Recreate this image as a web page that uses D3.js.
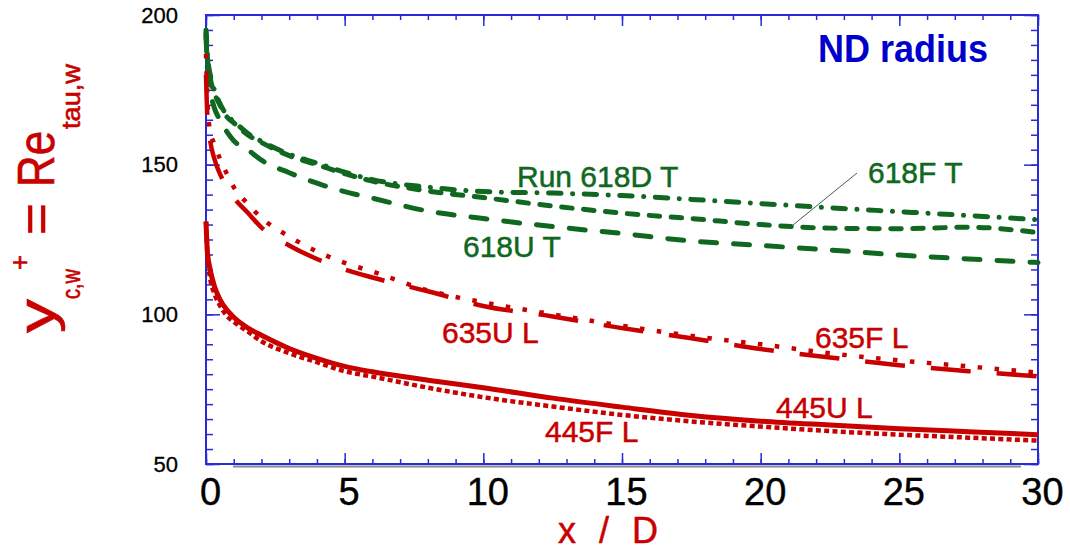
<!DOCTYPE html>
<html>
<head>
<meta charset="utf-8">
<script src="https://cdn.jsdelivr.net/npm/d3@7"></script>
<style>
  body { margin: 0; background: #fff; }
  text { font-family: "Liberation Sans", Arial, sans-serif; }
</style>
</head>
<body>
<script>
// x / D stations shared by every run
var xD = [0, 0.05, 0.15, 0.3, 0.5, 0.75, 1, 1.5, 2, 3, 4, 5, 6, 8, 10, 12.5, 15, 17.5, 20, 22.5, 25, 27.5, 30];

// y+ centreline values
var run618D = [195, 187, 180, 175, 170.5, 166.5, 164.5, 160.5, 157.8, 153.5, 150.5, 147.5, 145, 142.5, 141, 140.5, 139.7, 138.4, 137, 135.6, 134.3, 133, 131.6];
var run618F = [194, 186, 179, 174, 170, 166, 164, 160, 157.4, 153, 150, 147, 144.5, 141.2, 139, 136.2, 133.8, 132, 130, 128.8, 128.6, 129.1, 127.3];
var run618U = [193, 183, 175, 169, 165, 161, 158, 155, 151.5, 147.3, 143.8, 141, 138.8, 134.5, 132, 129.3, 127, 124.5, 123, 121.5, 119.8, 118.5, 117.3];
var run635F = [187, 172, 161, 157, 152, 147, 142.5, 137, 132.2, 126, 121, 117.2, 114.3, 108, 104, 100, 96.2, 92.8, 90, 87, 84.6, 82.6, 80.5];
var run635U = [180, 166, 158, 152, 147, 142.5, 139, 134, 129, 123, 118.5, 115, 112.3, 107.7, 102.8, 99.3, 95.4, 92, 88.4, 85.6, 83, 81, 79.3];
var run445U = [131, 121, 115, 109.5, 105, 101.5, 99, 95.5, 93, 88.6, 85.3, 82.6, 80.8, 78, 75.5, 72, 69, 66.2, 64.3, 63, 61.8, 60.8, 59.8];
var run445F = [131, 120, 112, 107, 103, 99.5, 97.5, 94.3, 91, 87, 84, 81, 79.2, 75.5, 72.3, 69.2, 66.4, 64.2, 62.5, 61, 59.8, 58.8, 57.8];

// axis ticks
var xMajor = [0, 5, 10, 15, 20, 25, 30];
var xMinor = d3.range(0, 31, 1);
var yMajor = [50, 100, 150, 200];
var yMinor = d3.range(50, 201, 5);

var green = "#106820", red = "#c80000", blue = "#2a2ad8";

var margin = { top: 15, right: 32, bottom: 88, left: 206 },
    width = 1070 - margin.left - margin.right,
    height = 552 - margin.top - margin.bottom;

var svg = d3.select("body").append("svg")
    .attr("width", 1070)
    .attr("height", 552);

var g = svg.append("g")
    .attr("transform", "translate(" + margin.left + "," + margin.top + ")");

var xScale = d3.scaleLinear().domain([0, 30]).range([0, width]);
var yScale = d3.scaleLinear().domain([50, 200]).range([height, 0]);

// frame + ticks (ticks point inward)
function tidy(sel) {
    sel.select(".domain").remove();
    sel.selectAll(".tick line").attr("stroke", blue).attr("stroke-width", 1.5);
}

g.append("g").attr("transform", "translate(0," + height + ")")
    .call(d3.axisBottom(xScale).tickValues(xMinor).tickSize(-5).tickFormat(""))
    .call(tidy);
var xAx = g.append("g").attr("transform", "translate(0," + height + ")")
    .call(d3.axisBottom(xScale).tickValues(xMajor).tickSize(-11).tickPadding(14).tickFormat(d3.format("d")))
    .call(tidy);
xAx.selectAll("text").attr("font-size", 38).attr("fill", "#000").attr("dx", 4)
    .attr("stroke", "#000").attr("stroke-width", 0.4)
    .style("font-family", "'Liberation Sans', Arial, sans-serif");

g.append("g")
    .call(d3.axisTop(xScale).tickValues(xMinor).tickSize(-5).tickFormat(""))
    .call(tidy);
g.append("g")
    .call(d3.axisTop(xScale).tickValues(xMajor).tickSize(-11).tickFormat(""))
    .call(tidy);

g.append("g")
    .call(d3.axisLeft(yScale).tickValues(yMinor).tickSize(-7).tickFormat(""))
    .call(tidy);
var yAx = g.append("g")
    .call(d3.axisLeft(yScale).tickValues(yMajor).tickSize(-14).tickPadding(28).tickFormat(d3.format("d")))
    .call(tidy);
yAx.selectAll("text").attr("font-size", 22).attr("fill", "#000")
    .attr("stroke", "#000").attr("stroke-width", 0.3)
    .style("font-family", "'Liberation Sans', Arial, sans-serif");

g.append("g").attr("transform", "translate(" + width + ",0)")
    .call(d3.axisRight(yScale).tickValues(yMinor).tickSize(-7).tickFormat(""))
    .call(tidy);
g.append("g").attr("transform", "translate(" + width + ",0)")
    .call(d3.axisRight(yScale).tickValues(yMajor).tickSize(-14).tickFormat(""))
    .call(tidy);

g.append("rect")
    .attr("width", width).attr("height", height)
    .attr("fill", "none").attr("stroke", blue).attr("stroke-width", 2);

// grey shadow under the bottom axis
g.append("line")
    .attr("x1", 27).attr("x2", width - 17)
    .attr("y1", height + 2.5).attr("y2", height + 2.5)
    .attr("stroke", "#8a8a8a").attr("stroke-width", 2);

// the runs
var runs = [
    { vals: run618U, color: green, w: 5, dash: "16,17", cap: "round" },
    { vals: run618F, color: green, w: 5, dash: "10.5,11.5", cap: "round" },
    { vals: run618D, color: green, w: 5, dash: "12.5,11.5,0.1,11.5", cap: "round" },
    { vals: run635U, color: red, w: 4.5, dash: "40,26", cap: "butt" },
    { vals: run635F, color: red, w: 4.5, dash: "4.5,12.5", cap: "butt" },
    { vals: run445F, color: red, w: 4.5, dash: "5,3.3", cap: "butt" },
    { vals: run445U, color: red, w: 5, dash: null, cap: "butt" }
];

var valueline = d3.line()
    .x(function(d, i) { return xScale(xD[i]); })
    .y(function(d) { return yScale(d); })
    .curve(d3.curveMonotoneX);

runs.forEach(function(r) {
    g.append("path")
        .datum(r.vals)
        .attr("d", valueline)
        .attr("fill", "none")
        .attr("stroke", r.color)
        .attr("stroke-width", r.w)
        .attr("stroke-linecap", r.cap)
        .attr("stroke-dasharray", r.dash);
});

// run labels
var labels = [
    { t: "Run 618D T", x: 517, y: 187, c: green },
    { t: "618F T", x: 868, y: 183, c: green },
    { t: "618U T", x: 463, y: 257, c: green },
    { t: "635U L", x: 442, y: 343, c: red },
    { t: "635F L", x: 815, y: 348, c: red },
    { t: "445U L", x: 776, y: 418, c: red },
    { t: "445F L", x: 545, y: 442, c: red }
];
labels.forEach(function(l) {
    svg.append("text").attr("x", l.x).attr("y", l.y)
        .attr("font-size", 30).attr("fill", l.c)
        .attr("stroke", l.c).attr("stroke-width", 0.5)
        .text(l.t);
});

svg.append("line")
    .attr("x1", 857).attr("y1", 173).attr("x2", 793).attr("y2", 225)
    .attr("stroke", "#555").attr("stroke-width", 1);

svg.append("text")
    .attr("x", 818).attr("y", 62)
    .attr("font-size", 38).attr("font-weight", "bold").attr("fill", "#0000cc")
    .attr("textLength", 170).attr("lengthAdjust", "spacingAndGlyphs")
    .text("ND radius");

// x axis title
svg.append("text")
    .attr("x", 558).attr("y", 543)
    .attr("font-size", 36).attr("fill", red)
    .attr("stroke", red).attr("stroke-width", 0.5)
    .attr("textLength", 100).attr("lengthAdjust", "spacing")
    .text("x / D");

// y axis title, built piece by piece (sub/superscripts stacked)
var yt = svg.append("g").attr("transform", "translate(54,333) rotate(-90)");
var pieces = [
    { t: "y", x: 0, y: 0, fs: 52, len: 34 },
    { t: "c,w", x: 34, y: 26, fs: 25, len: 30 },
    { t: "+", x: 63, y: -25, fs: 28, len: 15 },
    { t: "=", x: 98, y: 0, fs: 52, len: 32 },
    { t: "Re", x: 146, y: 0, fs: 52, len: 56 },
    { t: "tau,w", x: 204, y: 26, fs: 25, len: 65 }
];
pieces.forEach(function(p) {
    yt.append("text").attr("x", p.x).attr("y", p.y)
        .attr("font-size", p.fs).attr("fill", red)
        .attr("stroke", red).attr("stroke-width", 0.6)
        .attr("textLength", p.len).attr("lengthAdjust", "spacingAndGlyphs")
        .text(p.t);
});
</script>
</body>
</html>
